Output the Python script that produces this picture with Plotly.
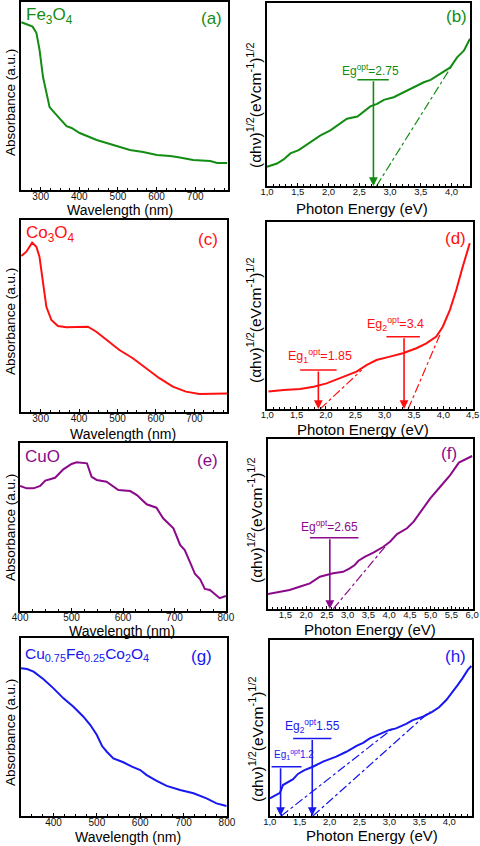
import plotly.graph_objects as go

# ---------------- data ----------------
# (a) Fe3O4 absorbance
fe_wl = [250, 279, 289, 297, 306, 315, 323, 336, 367, 380, 401, 445, 487, 505, 531, 565, 601, 635, 653, 695, 739, 757, 783]
fe_abs = [0.892, 0.869, 0.835, 0.745, 0.601, 0.516, 0.441, 0.41, 0.34, 0.33, 0.303, 0.266, 0.239, 0.229, 0.213, 0.202, 0.186, 0.181, 0.176, 0.16, 0.154, 0.144, 0.144]
# (b) Fe3O4 Tauc
fe_E = [1.0, 1.163, 1.27, 1.38, 1.515, 1.65, 1.87, 2.03, 2.19, 2.30, 2.47, 2.57, 2.68, 2.79, 2.90, 3.06, 3.22, 3.39, 3.55, 3.66, 3.82, 3.98, 4.09, 4.20, 4.30]
fe_tauc = [0.105, 0.123, 0.145, 0.178, 0.196, 0.228, 0.277, 0.304, 0.341, 0.368, 0.380, 0.404, 0.435, 0.449, 0.471, 0.485, 0.513, 0.543, 0.567, 0.58, 0.612, 0.648, 0.703, 0.739, 0.805]
fe_fit_E = [2.78, 4.0]
fe_fit_y = [0.0, 0.655]
fe_bar_E = [2.47, 2.98]
fe_bar_y = 0.58
fe_arrow_E = [2.73]
fe_label_xy = [(2.68, 0.635)]
fe_labels = ["Eg<sup>opt</sup>=2.75"]

# (c) Co3O4 absorbance
co_wl = [250, 263, 278, 289, 297, 306, 315, 328, 345, 367, 401, 423, 445, 471, 505, 540, 575, 609, 644, 678, 713, 748, 774, 785]
co_abs = [0.8125, 0.835, 0.882, 0.861, 0.809, 0.67, 0.548, 0.479, 0.448, 0.441, 0.444, 0.444, 0.418, 0.375, 0.323, 0.28, 0.228, 0.176, 0.132, 0.106, 0.094, 0.094, 0.097, 0.097]
# (d) Co3O4 Tauc
co_E = [1.02, 1.28, 1.56, 1.79, 2.01, 2.24, 2.52, 2.69, 2.86, 3.09, 3.31, 3.54, 3.71, 3.88, 3.99, 4.11, 4.22, 4.33, 4.45]
co_tauc = [0.093, 0.102, 0.107, 0.119, 0.137, 0.164, 0.2, 0.235, 0.262, 0.28, 0.298, 0.325, 0.351, 0.387, 0.44, 0.529, 0.636, 0.761, 0.886]
co_fit1_E = [1.90, 2.61]
co_fit1_y = [0.0, 0.209]
co_fit2_E = [3.40, 3.94]
co_fit2_y = [0.0, 0.396]
co_bar1_E = [1.56, 2.18]
co_bar1_y = 0.209
co_bar2_E = [3.03, 3.60]
co_bar2_y = 0.387
co_arrow_E = [1.87, 3.33]
co_label_xy = [(1.90, 0.285), (3.19, 0.452)]
co_labels = ["Eg<sub>1</sub><sup>opt</sup>=1.85", "Eg<sub>2</sub><sup>opt</sup>=3.4"]

# (e) CuO absorbance
cuo_wl = [400, 413, 426, 439, 449, 468, 484, 500, 510, 530, 539, 549, 568, 591, 614, 627, 646, 665, 678, 698, 711, 720, 730, 740, 750, 759, 769, 779, 788, 800]
cuo_abs = [0.744, 0.730, 0.730, 0.744, 0.776, 0.793, 0.843, 0.875, 0.885, 0.879, 0.799, 0.78, 0.770, 0.72, 0.714, 0.69, 0.635, 0.615, 0.552, 0.492, 0.393, 0.363, 0.293, 0.220, 0.189, 0.131, 0.125, 0.101, 0.076, 0.089]
# (f) CuO Tauc
cuo_E = [1.08, 1.36, 1.60, 1.84, 2.09, 2.33, 2.65, 2.89, 3.05, 3.17, 3.26, 3.42, 3.62, 3.86, 4.02, 4.19, 4.43, 4.59, 4.79, 4.99, 5.23, 5.47, 5.68, 5.88, 6.0]
cuo_tauc = [0.088, 0.102, 0.112, 0.131, 0.151, 0.19, 0.21, 0.219, 0.239, 0.259, 0.284, 0.308, 0.331, 0.366, 0.396, 0.441, 0.475, 0.514, 0.582, 0.651, 0.719, 0.788, 0.861, 0.886, 0.9]
cuo_fit_E = [2.65, 3.90]
cuo_fit_y = [0.0, 0.366]
cuo_bar_E = [2.09, 3.26]
cuo_bar_y = 0.419
cuo_arrow_E = [2.57]
cuo_label_xy = [(2.57, 0.49)]
cuo_labels = ["Eg<sup>opt</sup>=2.65"]

# (g) Cu0.75Fe0.25Co2O4 absorbance
cf_wl = [325, 339, 354, 377, 400, 423, 446, 469, 485, 500, 512, 523, 538, 561, 581, 600, 615, 638, 661, 692, 723, 753, 776, 799]
cf_abs = [0.830, 0.826, 0.811, 0.768, 0.717, 0.661, 0.614, 0.558, 0.511, 0.455, 0.393, 0.361, 0.324, 0.302, 0.277, 0.258, 0.230, 0.197, 0.169, 0.146, 0.128, 0.099, 0.071, 0.056]
# (h) Cu0.75Fe0.25Co2O4 Tauc
cf_E = [1.0, 1.08, 1.17, 1.22, 1.31, 1.39, 1.47, 1.58, 1.72, 1.89, 2.11, 2.28, 2.45, 2.56, 2.67, 2.83, 3.0, 3.11, 3.28, 3.39, 3.56, 3.72, 3.83, 3.95, 4.06, 4.14, 4.22, 4.31, 4.37]
cf_tauc = [0.1, 0.114, 0.132, 0.176, 0.191, 0.209, 0.239, 0.261, 0.28, 0.309, 0.337, 0.365, 0.398, 0.416, 0.441, 0.466, 0.489, 0.498, 0.523, 0.545, 0.564, 0.593, 0.618, 0.659, 0.706, 0.744, 0.782, 0.83, 0.852]
cf_fit1_E = [1.19, 3.06]
cf_fit1_y = [0.0, 0.498]
cf_fit2_E = [1.72, 3.67]
cf_fit2_y = [0.0, 0.593]
cf_bar1_E = [1.03, 1.53]
cf_bar1_y = 0.28
cf_bar2_E = [1.39, 2.03]
cf_bar2_y = 0.441
cf_arrow_E = [1.18, 1.71]
cf_label_xy = [(1.03, 0.35), (1.72, 0.51)]
cf_labels = ["Eg<sub>1</sub><sup>opt</sup>1.2", "Eg<sub>2</sub><sup>opt</sup>1.55"]

# ---------------- styling ----------------
W, H = 480, 846
FONT = "Arial, 'Liberation Sans', sans-serif"
GREEN = "#138c13"
RED = "#ff1010"
PURPLE = "#8a0a8a"
BLUE = "#1818f0"

def fx(p):
    return p / W

def fy(p):
    return 1 - p / H

# panel frames in pixels: (left, right, top, bottom)
frames = {
    1: (21, 228, 2, 190),
    2: (266.7, 470, 3, 186),
    3: (21, 227, 220, 412),
    4: (267, 473, 222, 409),
    5: (20, 226, 443, 611),
    6: (268, 473, 439, 609),
    7: (21, 227, 638, 816),
    8: (269.5, 472, 640, 816),
}
xranges = {
    1: [249, 785], 2: [0.995, 4.3], 3: [249, 785], 4: [0.995, 4.505],
    5: [399.8, 800.2], 6: [1.08, 6.02], 7: [325, 800.2], 8: [0.995, 4.38],
}

fig = go.Figure()
layout = dict(
    template="none",
    width=W, height=H, autosize=False,
    margin=dict(l=0, r=0, t=0, b=0, pad=0),
    paper_bgcolor="white", plot_bgcolor="white",
    showlegend=False, separators=",.",
    font=dict(family=FONT, color="black"),
)

for i, (l, r, t, b) in frames.items():
    sx = "" if i == 1 else str(i)
    energy = i % 2 == 0
    layout["xaxis" + sx] = dict(
        domain=[fx(l), fx(r)], range=xranges[i], anchor="y" + sx,
        automargin=False,
        showline=True, linecolor="black", linewidth=1.5, mirror=True,
        showgrid=False, zeroline=False,
        ticks="inside", ticklen=3, tickwidth=1, tickcolor="black",
        dtick=0.5 if energy else 100, tick0=0,
        tickformat=".1f" if energy else "d",
        ticklabelstandoff=-4,
        minor=dict(ticks="inside", ticklen=2, tickcolor="black",
                   dtick=0.1 if energy else 25, showgrid=False),
        tickfont=dict(size=9.5 if energy else 10, family=FONT, color="#111"),
    )
    layout["yaxis" + sx] = dict(
        domain=[fy(b), fy(t)], range=[0, 1], anchor="x" + sx,
        automargin=False,
        showline=True, linecolor="black", linewidth=1.5, mirror=True,
        showgrid=False, zeroline=False, showticklabels=False, ticks="",
    )

annotations = []

def curve(i, x, y, color, width=2):
    sx = "" if i == 1 else str(i)
    fig.add_trace(go.Scatter(x=x, y=y, mode="lines", xaxis="x" + sx, yaxis="y" + sx,
                             line=dict(color=color, width=width), hoverinfo="skip"))

def fit(i, x, y, color):
    sx = "" if i == 1 else str(i)
    fig.add_trace(go.Scatter(x=x, y=y, mode="lines", xaxis="x" + sx, yaxis="y" + sx,
                             line=dict(color=color, width=1.2, dash="dashdot"), hoverinfo="skip"))

def bar_arrow(i, bar_x, bar_y, arrow_x, color):
    sx = "" if i == 1 else str(i)
    fig.add_trace(go.Scatter(x=bar_x, y=[bar_y, bar_y], mode="lines", xaxis="x" + sx, yaxis="y" + sx,
                             line=dict(color=color, width=1.5), hoverinfo="skip"))
    annotations.append(dict(
        x=arrow_x, y=0.0, ax=arrow_x, ay=bar_y, xref="x" + sx, yref="y" + sx,
        axref="x" + sx, ayref="y" + sx, text="", showarrow=True,
        arrowhead=2, arrowsize=1.1, arrowwidth=1.6, arrowcolor=color, standoff=0,
    ))

def data_label(i, xy, text, color, size=12, anchor="center"):
    sx = "" if i == 1 else str(i)
    annotations.append(dict(x=xy[0], y=xy[1], xref="x" + sx, yref="y" + sx, text=text,
                            showarrow=False, xanchor=anchor, yanchor="middle",
                            font=dict(size=size, color=color, family=FONT)))

# (a)
curve(1, fe_wl, fe_abs, GREEN)
# (b)
curve(2, fe_E, fe_tauc, GREEN)
fit(2, fe_fit_E, fe_fit_y, GREEN)
bar_arrow(2, fe_bar_E, fe_bar_y, fe_arrow_E[0], GREEN)
data_label(2, fe_label_xy[0], fe_labels[0], GREEN, 12)
# (c)
curve(3, co_wl, co_abs, RED)
# (d)
curve(4, co_E, co_tauc, RED)
fit(4, co_fit1_E, co_fit1_y, RED)
fit(4, co_fit2_E, co_fit2_y, RED)
bar_arrow(4, co_bar1_E, co_bar1_y, co_arrow_E[0], RED)
bar_arrow(4, co_bar2_E, co_bar2_y, co_arrow_E[1], RED)
data_label(4, co_label_xy[0], co_labels[0], RED, 12.5)
data_label(4, co_label_xy[1], co_labels[1], RED, 12.5)
# (e)
curve(5, cuo_wl, cuo_abs, PURPLE)
# (f)
curve(6, cuo_E, cuo_tauc, PURPLE)
fit(6, cuo_fit_E, cuo_fit_y, PURPLE)
bar_arrow(6, cuo_bar_E, cuo_bar_y, cuo_arrow_E[0], PURPLE)
data_label(6, cuo_label_xy[0], cuo_labels[0], PURPLE, 12)
# (g)
curve(7, cf_wl, cf_abs, BLUE)
# (h)
curve(8, cf_E, cf_tauc, BLUE)
fit(8, cf_fit1_E, cf_fit1_y, BLUE)
fit(8, cf_fit2_E, cf_fit2_y, BLUE)
bar_arrow(8, cf_bar1_E, cf_bar1_y, cf_arrow_E[0], BLUE)
bar_arrow(8, cf_bar2_E, cf_bar2_y, cf_arrow_E[1], BLUE)
data_label(8, cf_label_xy[0], cf_labels[0], BLUE, 10, anchor="left")
data_label(8, cf_label_xy[1], cf_labels[1], BLUE, 12)

# ---------------- texts placed in pixels ----------------
def ptext(x, y, text, size, color="black", angle=0, xanchor="center"):
    annotations.append(dict(x=fx(x), y=fy(y), xref="paper", yref="paper", text=text,
                            showarrow=False, xanchor=xanchor, yanchor="middle",
                            textangle=angle, font=dict(size=size, color=color, family=FONT)))

# sample names and panel letters
ptext(24, 16, "Fe<sub>3</sub>O<sub>4</sub>", 17, GREEN, xanchor="left")
ptext(211, 18, "(a)", 17, GREEN)
ptext(456, 17, "(b)", 17, GREEN)
ptext(24, 234, "Co<sub>3</sub>O<sub>4</sub>", 17, RED, xanchor="left")
ptext(208, 239, "(c)", 17, RED)
ptext(455, 238, "(d)", 17, RED)
ptext(23, 456, "CuO", 17, PURPLE, xanchor="left")
ptext(207, 460, "(e)", 17, PURPLE)
ptext(449, 453, "(f)", 17, PURPLE)
ptext(23, 654, "Cu<sub>0.75</sub>Fe<sub>0.25</sub>Co<sub>2</sub>O<sub>4</sub>", 15.5, BLUE, xanchor="left")
ptext(201, 656, "(g)", 17, BLUE)
ptext(455, 656, "(h)", 17, BLUE)

# axis titles
for (x, y) in [(120, 210), (123, 434), (122, 631), (128, 837)]:
    ptext(x, y, "Wavelength (nm)", 14)
for (x, y) in [(362, 209), (363, 429), (370, 629), (372, 835)]:
    ptext(x, y, "Photon Energy (eV)", 15)
for (x, y) in [(10, 103), (10, 322), (10, 528), (10, 733)]:
    ptext(x, y, "Absorbance (a.u.)", 13.5, angle=-90)
tauc_title = "(αhν)<sup>1/2</sup>(eVcm<sup>-1</sup>)<sup>1/2</sup>"
for (x, y) in [(254, 106), (254, 321), (255, 521), (256, 740)]:
    ptext(x, y, tauc_title, 15.5, angle=-90)

layout["annotations"] = annotations
fig.update_layout(**layout)
fig.write_html("out.html",
               config={"displayModeBar": False},
               post_script="document.body.style.margin='0';document.body.style.padding='0';")
